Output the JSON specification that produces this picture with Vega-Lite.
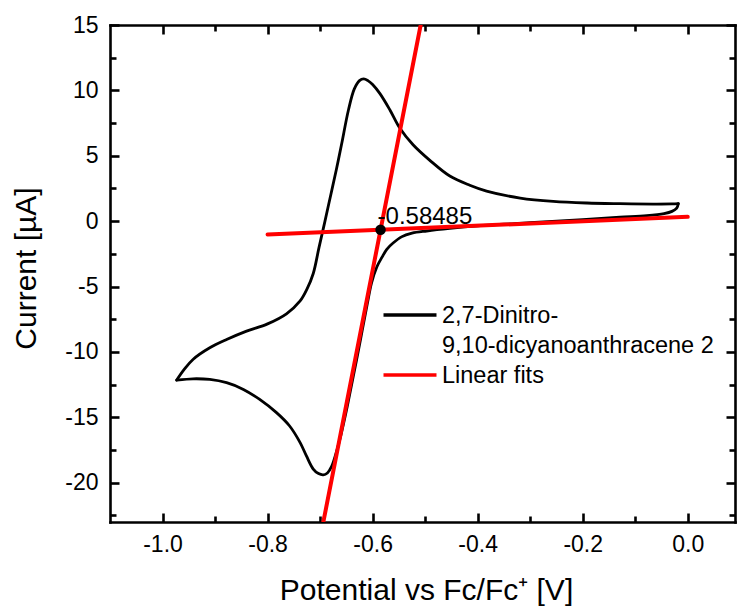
{
  "$schema": "https://vega.github.io/schema/vega-lite/v6.json",
  "autosize": "none",
  "width": 625,
  "height": 497,
  "padding": {"left": 110, "top": 25, "right": 4, "bottom": 86},
  "background": "white",
  "datasets": {
    "cv": [
      {"branch": "forward", "i": 1, "E": -0.018, "I": 1.34},
      {"branch": "forward", "i": 2, "E": -0.021, "I": 1.0},
      {"branch": "forward", "i": 3, "E": -0.03, "I": 0.75},
      {"branch": "forward", "i": 4, "E": -0.045, "I": 0.58},
      {"branch": "forward", "i": 5, "E": -0.078, "I": 0.42},
      {"branch": "forward", "i": 6, "E": -0.129, "I": 0.3},
      {"branch": "forward", "i": 7, "E": -0.2, "I": 0.12},
      {"branch": "forward", "i": 8, "E": -0.3, "I": -0.12},
      {"branch": "forward", "i": 9, "E": -0.4, "I": -0.36},
      {"branch": "forward", "i": 10, "E": -0.453, "I": -0.55},
      {"branch": "forward", "i": 11, "E": -0.497, "I": -0.75},
      {"branch": "forward", "i": 12, "E": -0.525, "I": -0.92},
      {"branch": "forward", "i": 13, "E": -0.545, "I": -1.2},
      {"branch": "forward", "i": 14, "E": -0.561, "I": -1.67},
      {"branch": "forward", "i": 15, "E": -0.573, "I": -2.15},
      {"branch": "forward", "i": 16, "E": -0.582, "I": -2.75},
      {"branch": "forward", "i": 17, "E": -0.592, "I": -3.5},
      {"branch": "forward", "i": 18, "E": -0.602, "I": -4.72},
      {"branch": "forward", "i": 19, "E": -0.61, "I": -6.3},
      {"branch": "forward", "i": 20, "E": -0.62, "I": -8.4},
      {"branch": "forward", "i": 21, "E": -0.63, "I": -10.5},
      {"branch": "forward", "i": 22, "E": -0.64, "I": -12.5},
      {"branch": "forward", "i": 23, "E": -0.65, "I": -14.5},
      {"branch": "forward", "i": 24, "E": -0.66, "I": -16.3},
      {"branch": "forward", "i": 25, "E": -0.67, "I": -17.8},
      {"branch": "forward", "i": 26, "E": -0.678, "I": -18.75},
      {"branch": "forward", "i": 27, "E": -0.686, "I": -19.25},
      {"branch": "forward", "i": 28, "E": -0.694, "I": -19.4},
      {"branch": "forward", "i": 29, "E": -0.703, "I": -19.3},
      {"branch": "forward", "i": 30, "E": -0.713, "I": -18.95},
      {"branch": "forward", "i": 31, "E": -0.726, "I": -17.95},
      {"branch": "forward", "i": 32, "E": -0.738, "I": -16.93},
      {"branch": "forward", "i": 33, "E": -0.758, "I": -15.66},
      {"branch": "forward", "i": 34, "E": -0.783, "I": -14.64},
      {"branch": "forward", "i": 35, "E": -0.815, "I": -13.63},
      {"branch": "forward", "i": 36, "E": -0.846, "I": -12.86},
      {"branch": "forward", "i": 37, "E": -0.878, "I": -12.35},
      {"branch": "forward", "i": 38, "E": -0.91, "I": -12.1},
      {"branch": "forward", "i": 39, "E": -0.942, "I": -12.05},
      {"branch": "forward", "i": 40, "E": -0.973, "I": -12.15},
      {"branch": "reverse", "i": 41, "E": -0.973, "I": -12.15},
      {"branch": "reverse", "i": 42, "E": -0.958, "I": -11.3},
      {"branch": "reverse", "i": 43, "E": -0.942, "I": -10.57},
      {"branch": "reverse", "i": 44, "E": -0.91, "I": -9.68},
      {"branch": "reverse", "i": 45, "E": -0.878, "I": -9.05},
      {"branch": "reverse", "i": 46, "E": -0.84, "I": -8.41},
      {"branch": "reverse", "i": 47, "E": -0.8, "I": -7.85},
      {"branch": "reverse", "i": 48, "E": -0.764, "I": -7.08},
      {"branch": "reverse", "i": 49, "E": -0.738, "I": -6.1},
      {"branch": "reverse", "i": 50, "E": -0.725, "I": -5.2},
      {"branch": "reverse", "i": 51, "E": -0.713, "I": -4.0},
      {"branch": "reverse", "i": 52, "E": -0.702, "I": -2.0},
      {"branch": "reverse", "i": 53, "E": -0.691, "I": -0.05},
      {"branch": "reverse", "i": 54, "E": -0.68, "I": 1.95},
      {"branch": "reverse", "i": 55, "E": -0.669, "I": 3.95},
      {"branch": "reverse", "i": 56, "E": -0.659, "I": 5.9},
      {"branch": "reverse", "i": 57, "E": -0.646, "I": 8.5},
      {"branch": "reverse", "i": 58, "E": -0.635, "I": 10.1},
      {"branch": "reverse", "i": 59, "E": -0.625, "I": 10.75},
      {"branch": "reverse", "i": 60, "E": -0.617, "I": 10.88},
      {"branch": "reverse", "i": 61, "E": -0.609, "I": 10.75},
      {"branch": "reverse", "i": 62, "E": -0.6, "I": 10.45},
      {"branch": "reverse", "i": 63, "E": -0.586, "I": 9.75},
      {"branch": "reverse", "i": 64, "E": -0.567, "I": 8.5},
      {"branch": "reverse", "i": 65, "E": -0.548, "I": 7.1},
      {"branch": "reverse", "i": 66, "E": -0.523, "I": 5.84},
      {"branch": "reverse", "i": 67, "E": -0.491, "I": 4.65},
      {"branch": "reverse", "i": 68, "E": -0.453, "I": 3.45},
      {"branch": "reverse", "i": 69, "E": -0.415, "I": 2.75},
      {"branch": "reverse", "i": 70, "E": -0.383, "I": 2.3},
      {"branch": "reverse", "i": 71, "E": -0.319, "I": 1.77},
      {"branch": "reverse", "i": 72, "E": -0.256, "I": 1.51},
      {"branch": "reverse", "i": 73, "E": -0.192, "I": 1.39},
      {"branch": "reverse", "i": 74, "E": -0.129, "I": 1.34},
      {"branch": "reverse", "i": 75, "E": -0.066, "I": 1.31},
      {"branch": "reverse", "i": 76, "E": -0.03, "I": 1.32},
      {"branch": "reverse", "i": 77, "E": -0.018, "I": 1.34}
    ],
    "fits": [
      {"fit": "baseline", "E": -0.8, "I": -1.02},
      {"fit": "baseline", "E": 0.0, "I": 0.33},
      {"fit": "peak", "E": -0.6938, "I": -23},
      {"fit": "peak", "E": -0.5085, "I": 15}
    ],
    "crossing": [
      {"E": -0.58485, "I": -0.66}
    ]
  },
  "layer": [
    {
      "data": {"name": "cv"},
      "mark": {"type": "line", "interpolate": "catmull-rom", "strokeWidth": 2.8, "strokeJoin": "round", "strokeCap": "round"},
      "encoding": {
        "x": {
          "field": "E", "type": "quantitative",
          "scale": {"domain": [-1.1, 0.09], "nice": false, "zero": false},
          "axis": {
            "orient": "bottom",
            "title": "Potential vs Fc/Fc⁺ [V]",
            "values": [-1.0, -0.9, -0.8, -0.7, -0.6, -0.5, -0.4, -0.3, -0.2, -0.1, 0.0],
            "labelExpr": "round(datum.value * 10) % 2 == 0 ? format(datum.value, '.1f') : ''",
            "tickSize": {"condition": {"test": "round(datum.value * 10) % 2 == 0", "value": -9}, "value": -6},
            "labelPadding": 20,
            "titlePadding": 19,
            "titleX": 316
          }
        },
        "y": {
          "field": "I", "type": "quantitative",
          "scale": {"domain": [-23, 15], "nice": false, "zero": false},
          "axis": {
            "orient": "left",
            "title": "Current [µA]",
            "values": [-22.5, -20, -17.5, -15, -12.5, -10, -7.5, -5, -2.5, 0, 2.5, 5, 7.5, 10, 12.5, 15],
            "labelExpr": "datum.value % 5 == 0 ? format(datum.value, 'd') : ''",
            "tickSize": {"condition": {"test": "datum.value % 5 == 0", "value": -9}, "value": -6},
            "labelPadding": 21,
            "titlePadding": 23,
            "titleY": 243
          }
        },
        "detail": {"field": "branch", "type": "nominal"},
        "order": {"field": "i", "type": "quantitative"},
        "color": {
          "datum": "2,7-Dinitro-9,10-dicyanoanthracene 2",
          "type": "nominal",
          "scale": {"domain": ["2,7-Dinitro-9,10-dicyanoanthracene 2", "Linear fits"], "range": ["#000000", "#ff0000"]},
          "legend": {
            "labelExpr": "datum.label == 'Linear fits' ? datum.label : ['2,7-Dinitro-', '9,10-dicyanoanthracene 2']",
            "encoding": {"labels": {"dy": {"value": 8}, "lineHeight": {"value": 30}}}
          }
        }
      }
    },
    {
      "data": {"name": "fits"},
      "mark": {"type": "line", "strokeWidth": 4, "strokeCap": "round", "clip": true},
      "encoding": {
        "x": {
          "field": "E", "type": "quantitative",
          "scale": {"domain": [-1.1, 0.09], "nice": false, "zero": false},
          "axis": {
            "orient": "top", "title": null, "labels": false,
            "values": [-1.0, -0.9, -0.8, -0.7, -0.6, -0.5, -0.4, -0.3, -0.2, -0.1, 0.0],
            "tickSize": {"condition": {"test": "round(datum.value * 10) % 2 == 0", "value": -9}, "value": -6}
          }
        },
        "y": {
          "field": "I", "type": "quantitative",
          "scale": {"domain": [-23, 15], "nice": false, "zero": false},
          "axis": {
            "orient": "right", "title": null, "labels": false,
            "values": [-22.5, -20, -17.5, -15, -12.5, -10, -7.5, -5, -2.5, 0, 2.5, 5, 7.5, 10, 12.5, 15],
            "tickSize": {"condition": {"test": "datum.value % 5 == 0", "value": -9}, "value": -6}
          }
        },
        "detail": {"field": "fit", "type": "nominal"},
        "color": {"datum": "Linear fits", "type": "nominal"}
      }
    },
    {
      "data": {"name": "crossing"},
      "mark": {"type": "point", "filled": true, "color": "#000000", "size": 110, "opacity": 1},
      "encoding": {
        "x": {"field": "E", "type": "quantitative", "axis": null},
        "y": {"field": "I", "type": "quantitative", "axis": null}
      }
    },
    {
      "data": {"name": "crossing"},
      "mark": {"type": "text", "align": "left", "baseline": "alphabetic", "dx": -3, "dy": -6, "font": "Liberation Sans", "fontSize": 24, "color": "#000000"},
      "encoding": {
        "x": {"field": "E", "type": "quantitative", "axis": null},
        "y": {"field": "I", "type": "quantitative", "axis": null},
        "text": {"field": "E", "type": "quantitative", "format": ".5f"}
      }
    }
  ],
  "resolve": {"axis": {"x": "independent", "y": "independent"}},
  "config": {
    "view": {"stroke": null},
    "locale": {
      "number": {"decimal": ".", "thousands": ",", "grouping": [3], "currency": ["$", ""], "minus": "-"}
    },
    "axis": {
      "grid": false,
      "domainColor": "#000000",
      "domainWidth": 2.6,
      "domainCap": "square",
      "tickColor": "#000000",
      "tickWidth": 2.6,
      "labelFont": "Liberation Sans",
      "labelFontSize": 23,
      "labelColor": "#000000",
      "titleFont": "Liberation Sans",
      "titleFontSize": 30,
      "titleFontWeight": "normal",
      "titleColor": "#000000"
    },
    "legend": {
      "orient": "none",
      "legendX": 285,
      "legendY": 275,
      "title": null,
      "padding": 0,
      "symbolType": "M-2,0H2",
      "symbolSize": 702,
      "symbolStrokeWidth": 3.5,
      "labelFont": "Liberation Sans",
      "labelFontSize": 23.5,
      "labelColor": "#000000",
      "labelOffset": 17,
      "labelBaseline": "alphabetic",
      "rowPadding": 2,
      "labelLimit": 400
    }
  }
}
